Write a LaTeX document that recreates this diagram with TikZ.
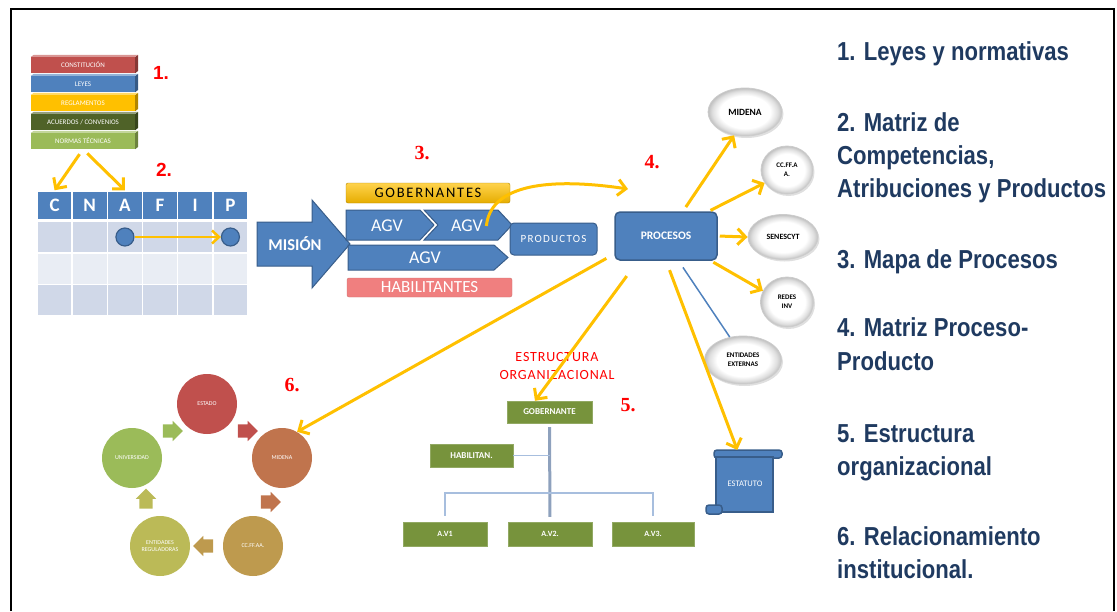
\documentclass[tikz,border=0pt]{standalone}
\usepackage{fontspec}
\setmainfont{Carlito}
\newfontfamily\legendfont[FakeStretch=0.85]{Liberation Sans}
\newfontfamily\numfont{Liberation Serif}
\newfontfamily\numsans{Liberation Sans}
\usetikzlibrary{arrows.meta,shapes.geometric,shapes.arrows,calc,shadows}

\definecolor{cblue}{HTML}{4F81BD}
\definecolor{cblueD}{HTML}{385D8A}
\definecolor{cyel}{HTML}{FFC000}
\definecolor{cred}{HTML}{C0504D}
\definecolor{colive}{HTML}{4F6228}
\definecolor{cgreen}{HTML}{9BBB59}
\definecolor{corg}{HTML}{77933C}
\definecolor{navy}{HTML}{1F3A60}
\definecolor{rowA}{HTML}{D0D8E8}
\definecolor{rowB}{HTML}{E9EDF4}
\definecolor{orgline}{HTML}{A7BEDE}
\definecolor{pinkbar}{HTML}{F07F7F}
\definecolor{cycA}{HTML}{C0504D}
\definecolor{cycB}{HTML}{C0744D}
\definecolor{cycC}{HTML}{BE9A4E}
\definecolor{cycD}{HTML}{BBBA57}
\definecolor{cycE}{HTML}{9BBB59}

% white bubble with a grey rim
\pgfdeclareradialshading{bubble}{\pgfpoint{0bp}{0bp}}{%
  color(0bp)=(white); color(17bp)=(white); color(22bp)=(gray!25);
  color(25bp)=(gray!50); color(50bp)=(gray!50)}

\begin{document}
\begin{tikzpicture}[x=1pt,y=-1pt,
  yarrow/.style={draw=cyel, line width=3pt, -{Straight Barb[length=8pt,width=16pt]}},
  numlabel/.style={text=red, font=\numfont\bfseries\fontsize{20}{20}\selectfont},
  stackbar/.style={rectangle, minimum width=104pt, minimum height=16pt, inner sep=0pt,
    text=white, font=\fontsize{7}{7}\selectfont},
  hcell/.style={rectangle, fill=cblue, draw=white, line width=1.5pt, minimum width=35.2pt,
    minimum height=29pt, inner sep=0pt, text=white, font=\bfseries\fontsize{19}{19}\selectfont},
  mcell/.style={rectangle, draw=white, line width=1.5pt, minimum width=35.2pt,
    minimum height=31.5pt, inner sep=0pt},
  matdot/.style={circle, fill=cblue, draw=cblueD, line width=1.2pt, minimum size=18pt, inner sep=0pt},
  chev/.style={fill=cblue, draw=cblueD, line width=1pt},
  agvtext/.style={text=white, font=\fontsize{18}{18}\selectfont},
  ellnode/.style={ellipse, inner sep=0pt, align=center, shading=bubble,
    draw=gray!40, line width=0.8pt, font=\bfseries\fontsize{8}{8.5}\selectfont,
    drop shadow={shadow xshift=1.5pt, shadow yshift=-2pt, opacity=0.25}},
  orgbox/.style={rectangle, fill=corg, draw=corg!80!white, inner sep=0pt, text=white,
    font=\bfseries\fontsize{9}{9}\selectfont},
  orgwire/.style={draw=orgline, line width=1.5pt},
  cyc/.style={circle, minimum size=60pt, inner sep=0pt, text=white, align=center,
    font=\fontsize{6}{7}\selectfont},
  cycarrow/.style={single arrow, minimum height=19pt, inner sep=6.5pt,
    single arrow head extend=3.5pt},
  legend/.style={anchor=base west, inner sep=0pt, text=navy,
    font=\legendfont\bfseries\fontsize{26}{33}\selectfont}
]
\useasboundingbox (0,0) rectangle (1117,611);

% frame
\draw[line width=2.5pt] (11,611) -- (11,9) -- (1114,9) -- (1114,611);

% ---------- 1. stack of norms
\node[stackbar, fill=cred]   (const) at (83,65)  {CONSTITUCIÓN};
\node[stackbar, fill=cblue]  (leyes) at (83,84)  {LEYES};
\node[stackbar, fill=cyel]   (regl)  at (83,103) {REGLAMENTOS};
\node[stackbar, fill=colive] (acue)  at (83,122) {ACUERDOS / CONVENIOS};
\node[stackbar, fill=cgreen] (norm)  at (83,141) {NORMAS TÉCNICAS};
\foreach \b/\c in {const/cred,leyes/cblue,regl/cyel,acue/colive,norm/cgreen}{
  \fill[\c!70!black] (\b.north east) -- ++(3,-2) -- ++(0,16) -- (\b.south east) -- cycle;
  \fill[\c!60!white] (\b.north west) -- ++(3,-2) -- ++(104,0) -- (\b.north east) -- cycle;
}
\node[numlabel, font=\numsans\bfseries\fontsize{19}{19}\selectfont] (n1) at (161,73) {1.};

% ---------- 2. matrix
\foreach \L [count=\i] in {C,N,A,F,I,P}
  \node[hcell] (h\i) at ({37+35.17*(\i-0.5)},205.5) {\L};
\foreach \r/\y/\c in {1/237/rowA,2/268.5/rowB,3/300/rowA}
  \foreach \i in {1,...,6}
    \node[mcell, fill=\c] (m\r\i) at ({37+35.17*(\i-0.5)},\y) {};
\node[matdot] (ca) at (m13) {};
\node[matdot] (cp) at (m16) {};
\draw[draw=cyel, line width=2.5pt, -{Straight Barb[length=7pt,width=13pt]}] (ca) -- (cp);
\draw[yarrow, shorten <=6pt] (norm.south) -- (h1.north);
\draw[yarrow, shorten <=6pt] (norm.south) -- (h3.north);
\node[numlabel, font=\numsans\bfseries\fontsize{19}{19}\selectfont] (n2) at (164,170) {2.};

% ---------- 3. process map
\node[numlabel] (n3) at (422,153) {3.};
\filldraw[fill=cblue, draw=cblueD, line width=1pt]
  (257,222) -- (312,222) -- (312,200) -- (350,244) -- (312,288) -- (312,266) -- (257,266) -- cycle;
\node[text=white, font=\bfseries\fontsize{16.5}{16.5}\selectfont] (mision) at (295,244) {MISIÓN};

\node[rectangle, rounded corners=2pt, top color=cyel!70!white, bottom color=cyel!90!black,
  draw=cyel!70!black, minimum width=164pt, minimum height=20pt, inner sep=0pt,
  font=\fontsize{14.5}{14.5}\selectfont\addfontfeature{LetterSpace=12}] (gobs) at (428,193) {GOBERNANTES};

\filldraw[chev] (346,210) -- (420,210) -- (434,225) -- (420,240) -- (346,240) -- cycle;
\filldraw[chev] (424,210) -- (498,210) -- (512,225) -- (498,240) -- (424,240) -- (438,225) -- cycle;
\filldraw[chev] (348,245) -- (494,245) -- (508,257.5) -- (494,270) -- (348,270) -- cycle;
\node[agvtext] (agvA) at (387,226) {AGV};
\node[agvtext] (agvB) at (467,226) {AGV};
\node[agvtext] (agvC) at (425,258) {AGV};

\node[rectangle, rounded corners=2pt, fill=pinkbar, draw=cred!80!white, minimum width=165pt,
  minimum height=19pt, inner sep=0pt, text=white, font=\fontsize{17}{17}\selectfont]
  (habs) at (429.5,287.5) {HABILITANTES};

\node[rectangle, rounded corners=4pt, fill=cblue, draw=cblueD, line width=1pt, minimum width=87pt,
  minimum height=32pt, inner sep=0pt, text=white,
  font=\fontsize{11}{11}\selectfont\addfontfeature{LetterSpace=11}] (prod) at (553.5,239) {PRODUCTOS};

\coordinate (t4) at (628,189);
\draw[yarrow] (agvB.east) .. controls (490,188) and (540,176) .. (t4);

% ---------- 4. process-product matrix
\node[numlabel] (n4) at (652,162) {4.};
\node[rectangle, rounded corners=5pt, fill=cblue, draw=cblueD, line width=1.5pt, minimum width=102pt,
  minimum height=48pt, inner sep=0pt, text=white, font=\bfseries\fontsize{11.5}{12}\selectfont]
  (proc) at (666,236) {PROCESOS};

\node[ellnode, minimum width=74pt, minimum height=48pt, font=\bfseries\fontsize{9.5}{10}\selectfont] (e1) at (745,112) {MIDENA};
\node[ellnode, minimum width=52pt, minimum height=48pt, font=\bfseries\fontsize{7}{9}\selectfont] (e2) at (787,170) {CC.FF.A\\A.};
\node[ellnode, minimum width=70pt, minimum height=45pt] (e3) at (783,237) {SENESCYT};
\node[ellnode, minimum width=53pt, minimum height=50pt, font=\bfseries\fontsize{7}{9}\selectfont] (e4) at (787,302) {REDES\\INV};
\node[ellnode, minimum width=77pt, minimum height=48pt, font=\bfseries\fontsize{7}{9}\selectfont] (e5) at (743,360) {ENTIDADES\\EXTERNAS};

\draw[yarrow, shorten <=5pt] ([xshift=17pt]proc.north) -- (e1.245);
\draw[yarrow, shorten <=2pt] ([xshift=-9pt]proc.north east) -- (e2.210);
\draw[yarrow, shorten <=2pt] (proc.east) -- (e3.west);
\draw[yarrow, shorten <=3pt] ([xshift=-7pt]proc.south east) -- (e4.155);
\draw[draw=cblue, line width=1.5pt, shorten <=8pt] ([xshift=12.5pt]proc.south) -- (e5.120);

% ---------- 5. organisational structure
\node[orgbox, minimum width=85pt, minimum height=22pt] (gob) at (549.5,412) {GOBERNANTE};
\node[orgbox, minimum width=83pt, minimum height=23pt] (hab) at (471.5,455.5) {HABILITAN.};
\node[orgbox, minimum width=84pt, minimum height=24pt, font=\bfseries\fontsize{8}{8}\selectfont] (av1) at (445,534) {A.V1};
\node[orgbox, minimum width=84pt, minimum height=24pt, font=\bfseries\fontsize{8}{8}\selectfont] (av2) at (550,534) {A.V2.};
\node[orgbox, minimum width=82pt, minimum height=24pt, font=\bfseries\fontsize{8}{8}\selectfont] (av3) at (653,534) {A.V3.};
\coordinate (bus) at (549.5,493);
\draw[draw=orgline!85!black, line width=3pt, shorten <=4pt, shorten >=5pt] (gob.south) -- (av2.north);
\draw[orgwire, shorten <=6pt, shorten >=6pt] (av1.north) |- (bus) -| (av3.north);
\draw[orgwire] (hab.east) -- (hab.east -| gob.south);

\node[text=red, align=center, font=\fontsize{14}{18}\selectfont\addfontfeature{LetterSpace=6}]
  (estlabel) at (557,366) {ESTRUCTURA\\ORGANIZACIONAL};
\node[numlabel] (n5) at (628,405) {5.};

\draw[yarrow, shorten <=19pt] ([xshift=-28pt]proc.south) -- ($(gob.north west)!0.33!(gob.north east)$);

% ---------- 6. institutional relations
\node[cyc, fill=cycA] (estado) at (207,404) {ESTADO};
\node[cyc, fill=cycB] (midc)   at (282,458) {MIDENA};
\node[cyc, fill=cycC] (ccff)   at (253,546) {CC.FF.AA.};
\node[cyc, fill=cycD] (entreg) at (160,546) {ENTIDADES\\REGULADORAS};
\node[cyc, fill=cycE] (univ)   at (132,458) {UNIVERSIDAD};
\node[cycarrow, fill=cycA, shape border rotate=-36]  (ar1) at (244.5,431) {};
\node[cycarrow, fill=cycB, shape border rotate=-108] (ar2) at (267.5,502) {};
\node[cycarrow, fill=cycC, shape border rotate=180]  (ar3) at (206.5,546) {};
\node[cycarrow, fill=cycD, shape border rotate=108]  (ar4) at (146,502) {};
\node[cycarrow, fill=cycE, shape border rotate=36]   (ar5) at (169.5,431) {};
\node[numlabel] (n6) at (292,385) {6.};

\draw[yarrow, shorten <=9pt] ([yshift=-18pt]proc.west) -- (midc.60);

% ---------- statute
\filldraw[fill=cblue, draw=cblueD, line width=1.5pt, rounded corners=3pt] (714,450) rectangle (782,458);
\filldraw[fill=cblue, draw=cblueD, line width=1.5pt] (716,457) rectangle (773,512);
\filldraw[fill=cblue, draw=cblueD, line width=1.5pt, rounded corners=3pt] (706,505) rectangle (722,514);
\node[minimum height=64pt, inner sep=0pt, text=white, font=\fontsize{8.5}{8.5}\selectfont] (est) at (745,484) {ESTATUTO};
\draw[yarrow, shorten <=10pt, shorten >=2pt] (proc.south) -- ([xshift=-7pt]est.north);

% ---------- legend
\node[legend] (l1)  at (837,60)  {1. Leyes y normativas};
\node[legend] (l2a) at (837,131) {2. Matriz de};
\node[legend] (l2b) at (837,164) {Competencias,};
\node[legend] (l2c) at (837,197) {Atribuciones y Productos};
\node[legend] (l3)  at (837,268) {3. Mapa de Procesos};
\node[legend] (l4a) at (837,336) {4. Matriz Proceso-};
\node[legend] (l4b) at (837,370) {Producto};
\node[legend] (l5a) at (837,442) {5. Estructura};
\node[legend] (l5b) at (837,475) {organizacional};
\node[legend] (l6a) at (837,545) {6. Relacionamiento};
\node[legend] (l6b) at (837,578) {institucional.};
\end{tikzpicture}
\end{document}
